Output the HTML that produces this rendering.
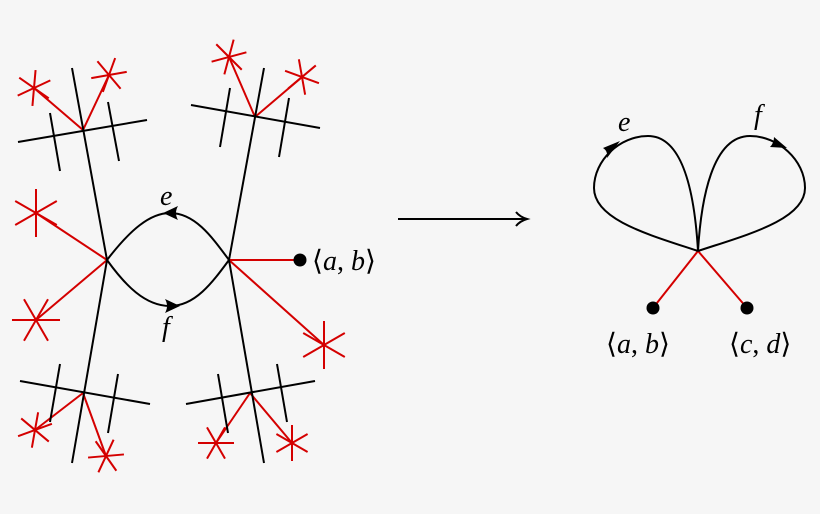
<!DOCTYPE html>
<html><head><meta charset="utf-8"><style>
html,body{margin:0;padding:0;background:#f6f6f6;}
svg{display:block}
text{font-family:"Liberation Serif",serif;font-size:28px;fill:#000}
.it{font-style:italic}
</style></head><body>
<svg width="820" height="514" viewBox="0 0 820 514" xmlns="http://www.w3.org/2000/svg">
<defs>
<g id="st"><line x1="0" y1="-18" x2="0" y2="18"/><line x1="-15.6" y1="-9" x2="15.6" y2="9"/><line x1="-15.6" y1="9" x2="15.6" y2="-9"/></g>
<g id="stb"><line x1="0" y1="-24" x2="0" y2="24"/><line x1="-20.8" y1="-12" x2="20.8" y2="12"/><line x1="-20.8" y1="12" x2="20.8" y2="-12"/></g>
</defs>
<rect width="820" height="514" fill="#f6f6f6"/>
<g stroke="#d40000" stroke-width="2" fill="none">
<line x1="83" y1="130" x2="34" y2="88"/><line x1="83" y1="130" x2="109" y2="75"/>
<line x1="255" y1="117" x2="229" y2="57"/><line x1="255" y1="117" x2="302" y2="77"/>
<line x1="107" y1="260" x2="36" y2="213"/><line x1="107" y1="260" x2="36" y2="320"/>
<line x1="229" y1="260" x2="300" y2="260"/><line x1="229" y1="260" x2="324" y2="345"/>
<line x1="83" y1="393" x2="35" y2="430"/><line x1="83" y1="393" x2="106" y2="456"/>
<line x1="250" y1="393" x2="216" y2="443"/><line x1="250" y1="393" x2="292" y2="443"/>
<line x1="698" y1="251" x2="653" y2="308"/><line x1="698" y1="251" x2="747" y2="308"/>
<use href="#st" transform="translate(34,88) rotate(5)"/>
<use href="#st" transform="translate(109,75) rotate(20)"/>
<use href="#st" transform="translate(229,57) rotate(15)"/>
<use href="#st" transform="translate(302,77) rotate(-10)"/>
<use href="#stb" transform="translate(36,213)"/>
<use href="#stb" transform="translate(36,320) rotate(30)"/>
<use href="#stb" transform="translate(324,345)"/>
<use href="#st" transform="translate(35,430) rotate(10)"/>
<use href="#st" transform="translate(106,456) rotate(25)"/>
<use href="#st" transform="translate(216,443) rotate(30)"/>
<use href="#st" transform="translate(292,443) rotate(0)"/>
</g>
<g stroke="#000" stroke-width="2" fill="none">
<polyline points="72,68 107,260 72,463"/>
<polyline points="264,68 229,260 264,463"/>
<line x1="18" y1="142" x2="147" y2="120"/>
<line x1="50" y1="113" x2="60" y2="171"/><line x1="108" y1="102" x2="119" y2="161"/>
<line x1="191" y1="105" x2="320" y2="128"/>
<line x1="230" y1="88" x2="220" y2="147"/><line x1="289" y1="98" x2="279" y2="157"/>
<line x1="20" y1="381" x2="150" y2="404"/>
<line x1="60" y1="364" x2="50" y2="422"/><line x1="118" y1="374" x2="108" y2="433"/>
<line x1="186" y1="404" x2="315" y2="381"/>
<line x1="218" y1="374" x2="228" y2="433"/><line x1="277" y1="364" x2="287" y2="422"/>
<path d="M107,260 C130,230 150,213 170,213 C195,213 212,237 229,260"/>
<path d="M107,260 C125,285 145,306 170,306 C195,306 212,283 229,260"/>
<line x1="398" y1="219" x2="526" y2="219"/>
<path d="M516,212 Q520,217 527,219 Q520,221 516,226" />
<path d="M698,251 C650,235 594,220 594,188 C594,160 620,136 648,136 C685,136 695,200 698,251"/>
<path d="M698,251 C701,200 712,136 750,136 C778,136 805,160 805,188 C805,220 746,235 698,251"/>
</g>
<g fill="#000">
<path d="M163,213 L178,206 Q174,213 178,220 Z"/>
<path d="M180,306 L165,299 Q169,306 165,313 Z"/>
<path d="M620,141 L603,148 Q608,151 607,158 Z"/>
<path d="M787,148 L774,137 Q774,143 770,147 Z"/>
<circle cx="300" cy="260" r="6.5"/>
<circle cx="653" cy="308" r="6.5"/>
<circle cx="747" cy="308" r="6.5"/>
</g>
<text class="it" x="160" y="205">e</text>
<text class="it" x="162" y="336">f</text>
<text x="312" y="270">⟨<tspan class="it">a</tspan>, <tspan class="it">b</tspan>⟩</text>
<text class="it" x="618" y="131">e</text>
<text class="it" x="754" y="124">f</text>
<text x="606" y="353">⟨<tspan class="it">a</tspan>, <tspan class="it">b</tspan>⟩</text>
<text x="729" y="353">⟨<tspan class="it">c</tspan>, <tspan class="it">d</tspan>⟩</text>
</svg>
</body></html>
